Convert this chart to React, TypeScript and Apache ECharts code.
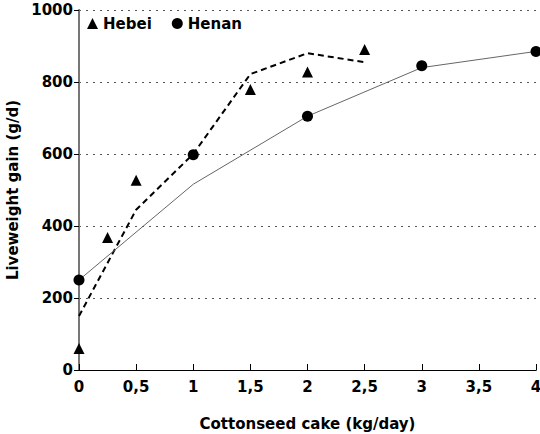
import React, { useEffect, useRef } from "react";
import * as echarts from "echarts";

const hebeiX = [0, 0.25, 0.5, 1.5, 2, 2.5];
const hebeiY = [60, 368, 527, 779, 828, 890];
const hebeiFitX = [0, 0.5, 1, 1.5, 2, 2.5];
const hebeiFitY = [150, 445, 600, 822, 880, 855];
const henanX = [0, 1, 2, 3, 4];
const henanY = [250, 598, 705, 845, 885];
const henanFitX = [0, 1, 2, 3, 4];
const henanFitY = [250, 516, 705, 840, 885];

const FONT = "DejaVu Sans";
const FS = 15;

export default function App() {
  const ref = useRef<HTMLDivElement>(null);
  useEffect(() => {
    const chart = echarts.init(ref.current!, null, { renderer: "svg" });
    const zip = (xs: number[], ys: number[]) => xs.map((x, i) => [x, ys[i]]);
    const txt = { fontFamily: FONT, fontSize: FS, color: "#000", fontWeight: "bold" };
    chart.setOption({
      animation: false,
      textStyle: { fontFamily: FONT, color: "#000" },
      grid: { left: 79, right: 4, top: 10, bottom: 64, outerBoundsMode: "none", containLabel: false },
      legend: {
        left: 82,
        top: 11,
        itemWidth: 11,
        itemHeight: 11,
        itemGap: 20,
        textStyle: { ...txt },
        data: [
          { name: "Hebei", icon: "triangle" },
          { name: "Henan", icon: "circle" },
        ],
      },
      xAxis: [
        {
          type: "value",
          min: 0,
          max: 4,
          interval: 0.5,
          name: "Cottonseed cake (kg/day)",
          nameLocation: "middle",
          nameGap: 46,
          nameTextStyle: { ...txt },
          axisLine: { lineStyle: { color: "#000", width: 1 } },
          axisTick: { inside: true, length: 6, lineStyle: { color: "#000" } },
          axisLabel: {
            ...txt,
            margin: 9,
            formatter: (v: number) => String(v).replace(".", ","),
          },
          splitLine: { show: false },
        },
        {
          type: "value",
          position: "top",
          min: 0,
          max: 4,
          axisLine: { show: true, lineStyle: { color: "#000", width: 1 } },
          axisTick: { show: false },
          axisLabel: { show: false },
          splitLine: { show: false },
        },
      ],
      yAxis: [
        {
          type: "value",
          min: 0,
          max: 1000,
          interval: 200,
          name: "Liveweight gain (g/d)",
          nameLocation: "middle",
          nameGap: 50,
          nameTextStyle: { ...txt },
          axisLine: { show: true, lineStyle: { color: "#000", width: 1 } },
          axisTick: { show: true, length: 5, lineStyle: { color: "#000" } },
          axisLabel: { ...txt, margin: 6, formatter: (v: number) => String(v) },
          splitLine: { show: true, lineStyle: { color: "#555", type: [2, 5], width: 1 } },
        },
        {
          type: "value",
          position: "right",
          min: 0,
          max: 1000,
          axisLine: { show: true, lineStyle: { color: "#777", width: 2 } },
          axisTick: { show: false },
          axisLabel: { show: false },
          splitLine: { show: false },
        },
      ],
      series: [
        {
          name: "Hebei fit",
          type: "line",
          data: zip(hebeiFitX, hebeiFitY),
          showSymbol: false,
          symbol: "none",
          lineStyle: { color: "#000", width: 2, type: [6, 4] },
          z: 2,
        },
        {
          name: "Henan fit",
          type: "line",
          data: zip(henanFitX, henanFitY),
          showSymbol: false,
          symbol: "none",
          lineStyle: { color: "#666", width: 1 },
          z: 2,
        },
        {
          name: "Hebei",
          type: "scatter",
          symbol: "triangle",
          symbolSize: 11,
          itemStyle: { color: "#000", opacity: 1 },
          data: zip(hebeiX, hebeiY),
          z: 3,
        },
        {
          name: "Henan",
          type: "scatter",
          symbol: "circle",
          symbolSize: 11,
          itemStyle: { color: "#000", opacity: 1 },
          data: zip(henanX, henanY),
          z: 3,
        },
      ],
    });
    return () => chart.dispose();
  }, []);
  return <div ref={ref} style={{ width: 540, height: 434, position: "absolute", left: 0, top: 0 }} />;
}
